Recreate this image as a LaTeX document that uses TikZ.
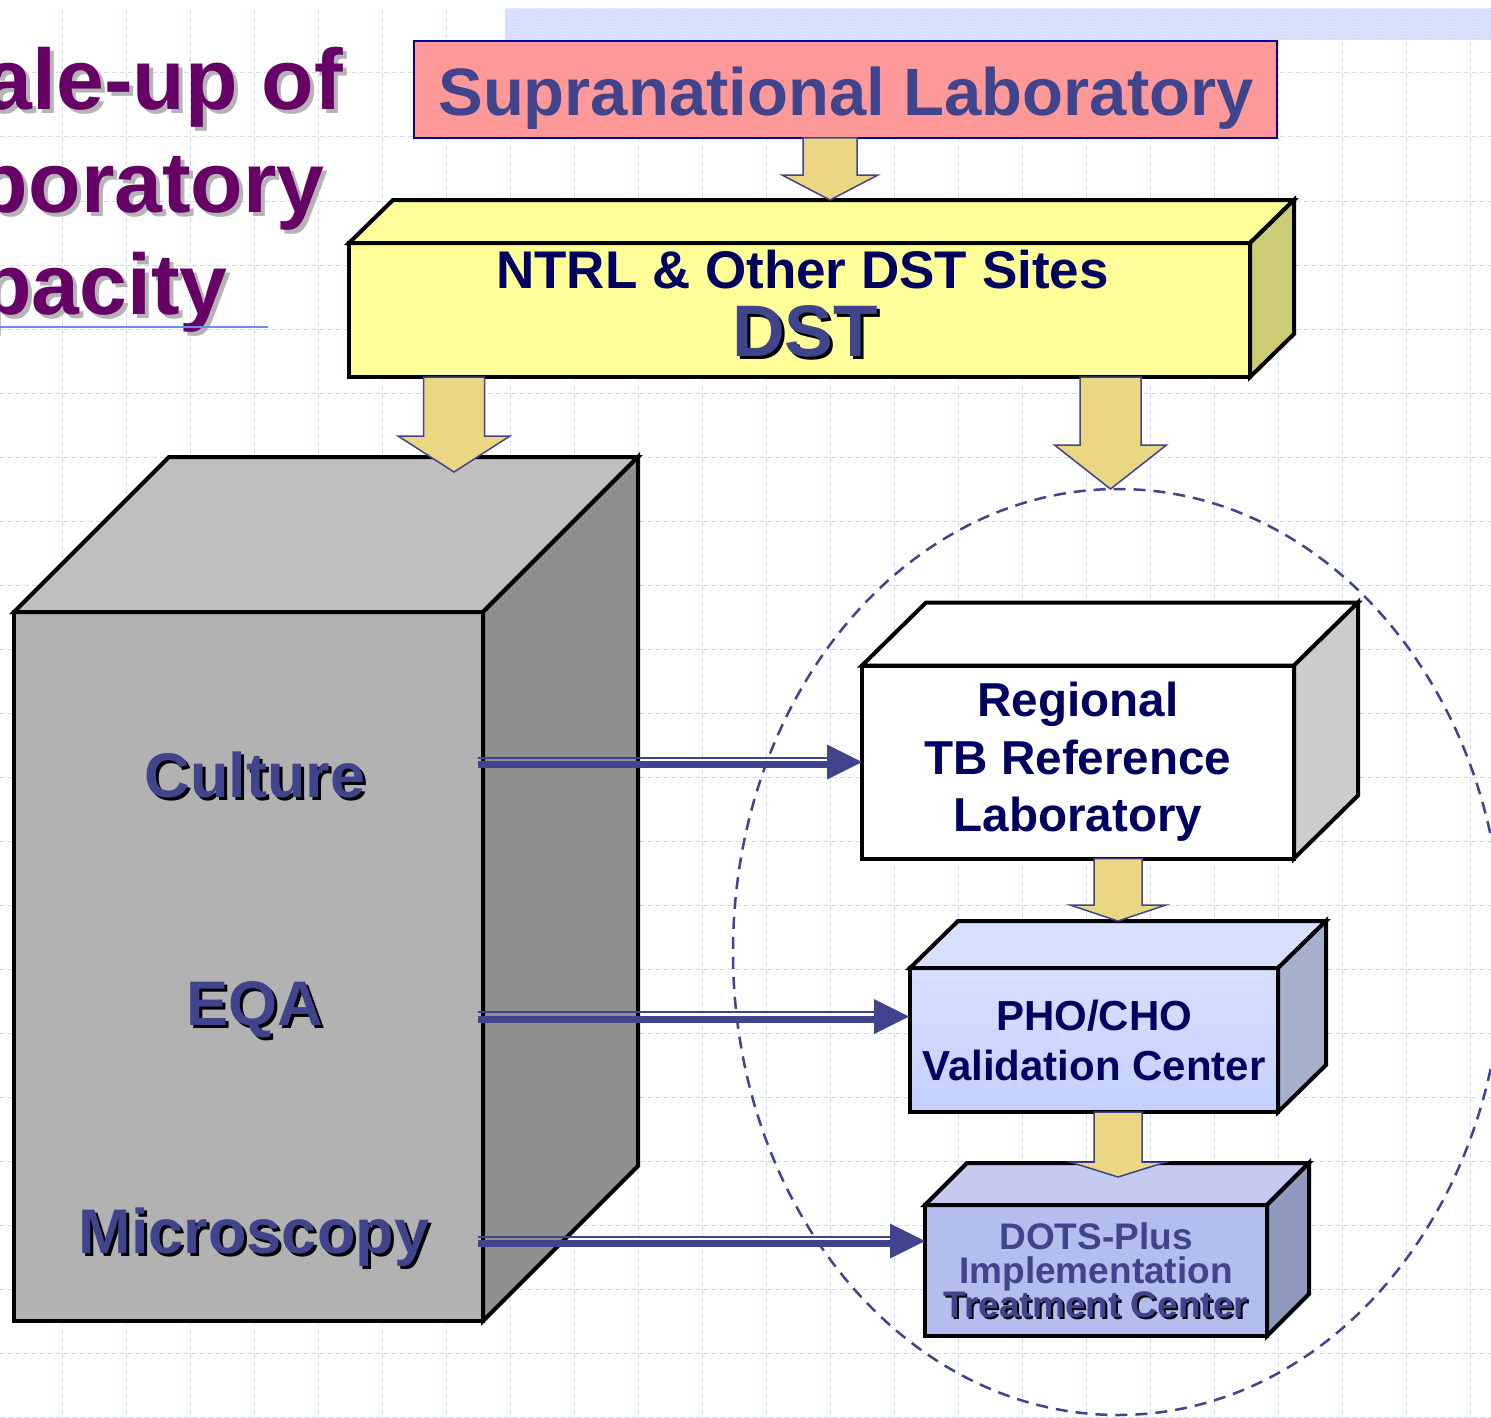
\documentclass[tikz,border=0pt]{standalone}
\usepackage{fontspec}
\setmainfont{Liberation Sans}
\usetikzlibrary{calc,shapes.geometric,patterns}

\definecolor{gridblue}{RGB}{208,218,255}
\definecolor{bandblue}{RGB}{228,235,255}
\definecolor{bandhatch}{RGB}{205,216,255}
\definecolor{titlepurple}{RGB}{102,0,102}
\definecolor{titleshadow}{RGB}{180,180,180}
\definecolor{linkblue}{RGB}{110,140,240}
\definecolor{suppink}{RGB}{255,153,153}
\definecolor{supborder}{RGB}{0,0,153}
\definecolor{slate}{RGB}{64,68,140}
\definecolor{deepnavy}{RGB}{0,0,96}
\definecolor{ntrlfront}{RGB}{255,255,153}
\definecolor{ntrlside}{RGB}{204,204,119}
\definecolor{bigfront}{RGB}{178,178,178}
\definecolor{bigtop}{RGB}{192,192,192}
\definecolor{bigside}{RGB}{143,143,143}
\definecolor{regside}{RGB}{204,204,204}
\definecolor{phofront}{RGB}{206,218,255}
\definecolor{photop}{RGB}{216,224,255}
\definecolor{phoside}{RGB}{166,175,204}
\definecolor{dotsfront}{RGB}{179,189,238}
\definecolor{dotstop}{RGB}{196,202,240}
\definecolor{dotsside}{RGB}{144,153,192}
\definecolor{arrowfill}{RGB}{234,214,131}
\definecolor{arrowline}{RGB}{64,68,140}

\newcommand{\fs}[2]{\fontsize{#1}{#2}\selectfont\lineskiplimit=-100pt\relax}
\newcommand{\shtext}[3]{\rlap{\hspace{#2}\raisebox{-#2}[0pt][0pt]{\textcolor{#1}{#3}}}#3}
% top and side faces of a box whose front is node #1
\newcommand{\boxfaces}[5]{%
  \draw[face, fill=#4] (#1.north west) -- ++(#2,-#3) -- ($(#1.north east)+(#2,-#3)$) -- (#1.north east) -- cycle;
  \draw[face, fill=#5] (#1.north east) -- ++(#2,-#3) -- ($(#1.south east)+(#2,-#3)$) -- (#1.south east) -- cycle;}
% start, tip, shaft half width, head half width, head length
\newcommand{\blockarrow}[5]{%
  \draw[blockarrow] let \p1=(#1), \p2=(#2) in
    (\x2-#3pt,\y1) -- (\x2-#3pt,\y2+#5pt) -- (\x2-#4pt,\y2+#5pt) -- (\x2,\y2)
    -- (\x2+#4pt,\y2+#5pt) -- (\x2+#3pt,\y2+#5pt) -- (\x2+#3pt,\y1) -- cycle;}
\newcommand{\linkarrow}[2]{%
  \draw[linkline, line width=2pt] ($(#1)+(0,-4.5)$) -- ($(#2)+(-33,-4.5)$);
  \draw[linkline, line width=7pt] ($(#1)+(0,2.5)$) -- ($(#2)+(-33,2.5)$);
  \fill[arrowline] (#2) -- ++(-35,-17.5) -- ++(0,35) -- cycle;}

\tikzset{
  face/.style={draw=black, line width=4pt},
  frontface/.style={face, rectangle, inner sep=0pt, outer sep=0pt},
  gridline/.style={draw=gridblue, line width=1pt, dash pattern=on 5pt off 3pt},
  titletext/.style={text=titlepurple, font=\fs{86}{100}\bfseries, inner sep=0pt},
  bigtext/.style={anchor=base, text=slate, font=\fs{63}{70}\bfseries, inner sep=0pt},
  ringline/.style={draw=arrowline, line width=2.5pt, dash pattern=on 12pt off 8pt, inner sep=0pt, outer sep=0pt},
  blockarrow/.style={fill=arrowfill, draw=arrowline, line width=1.5pt},
  linkline/.style={draw=arrowline}
}

\begin{document}
\begin{tikzpicture}[x=1pt,y=-1pt]
\useasboundingbox (0,0) rectangle (1491,1418);
\fill[white] (0,0) rectangle (1491,1418);
\foreach \gx in {62,126,...,1470} \draw[gridline] (\gx,9) -- (\gx,1418);
\foreach \gy in {73,137,...,1417} \draw[gridline] (0,\gy) -- (1491,\gy);
\fill[bandblue] (505,9) rectangle (1491,40);
\fill[pattern=crosshatch, pattern color=bandhatch] (505,9) rectangle (1491,40);

\begin{scope}
  \clip (0,0) rectangle (1491,1418);
  \node[titletext, anchor=base east] (title a) at (343,110) {\shtext{titleshadow}{4pt}{Scale-up of}};
  \node[titletext, anchor=base east] (title b) at (325,212) {\shtext{titleshadow}{4pt}{Laboratory}};
  \node[titletext, anchor=base east] (title c) at (228,314) {\shtext{titleshadow}{4pt}{Capacity}};
\end{scope}
\draw[linkblue, line width=2pt] (0,327) -- (268,327);

\node[ringline, ellipse, minimum width=770, minimum height=926] (ring) at (1118,952) {};

\node[frontface, draw=supborder, line width=2pt, fill=suppink, minimum width=863, minimum height=97] (sup) at (845.5,89.5) {};
\node[anchor=base, text=slate, font=\fs{67}{80}\bfseries] (sup text) at (846,116) {Supranational Laboratory};

\node[frontface, fill=ntrlfront, minimum width=901, minimum height=134] (ntrl) at (799.5,310) {};
\boxfaces{ntrl}{44}{43}{ntrlfront}{ntrlside}
\node[anchor=base, text=deepnavy, font=\fs{53}{60}\bfseries] (ntrl text) at (802.5,288) {NTRL \& Other DST Sites};
\node[anchor=base, text=slate, font=\fs{73}{80}\bfseries] (dst text) at (805,356) {\shtext{black}{3pt}{DST}};

\node[frontface, fill=bigfront, minimum width=469, minimum height=709] (big) at (248.5,966.5) {};
\boxfaces{big}{155}{155}{bigtop}{bigside}
\node[bigtext] (culture) at (255,797) {\shtext{black}{3pt}{Culture}};
\node[bigtext] (eqa) at (255,1025) {\shtext{black}{3pt}{EQA}};
\node[bigtext] (microscopy) at (254,1253) {\shtext{black}{3pt}{Microscopy}};

\node[frontface, fill=white, minimum width=432, minimum height=193, text=deepnavy, align=center,
  font=\fs{47.6}{57.5}\bfseries] (reg) at (1078,762) {Regional\\TB Reference\\Laboratory};
\boxfaces{reg}{64}{63}{white}{regside}

\node[frontface, top color=photop, bottom color=phofront!95!blue, minimum width=368, minimum height=144, text=deepnavy, align=center,
  font=\fs{42}{50}\bfseries] (pho) at (1094,1040) {PHO/CHO\\Validation Center};
\boxfaces{pho}{48}{47}{photop}{phoside}

\node[frontface, fill=dotsfront, minimum width=342, minimum height=131, text=slate, align=center,
  font=\fs{37}{34}\bfseries] (dots) at (1096,1270.5) {DOTS-Plus\\Implementation\\\shtext{black}{2pt}{Treatment Center}};
\boxfaces{dots}{42}{42}{dotstop}{dotsside}

\coordinate (ntrl in) at (830,200);
\coordinate (big in) at (454,472);
\coordinate (ring in) at (1110.5,489);
\coordinate (pho in) at (1118,921);
\coordinate (dots in) at (1118,1177);
\blockarrow{sup.south}{ntrl in}{27}{48}{25}
\blockarrow{ntrl.south}{big in}{30.5}{56}{36}
\blockarrow{ntrl.south}{ring in}{30.5}{56}{44}
\blockarrow{reg.south}{pho in}{24}{48}{16}
\blockarrow{pho.south}{dots in}{24}{48}{15}

\coordinate (culture out) at ($(big.east |- reg.west)+(-5,0)$);
\coordinate (pho link) at ($(pho.west)+(-1,-23.5)$);
\coordinate (eqa out) at ($(big.east |- pho link)+(-5,0)$);
\coordinate (dots link) at ($(dots.west)+(0,-29.5)$);
\coordinate (microscopy out) at ($(big.east |- dots link)+(-5,0)$);
\linkarrow{culture out}{reg.west}
\linkarrow{eqa out}{pho link}
\linkarrow{microscopy out}{dots link}
\end{tikzpicture}
\end{document}
